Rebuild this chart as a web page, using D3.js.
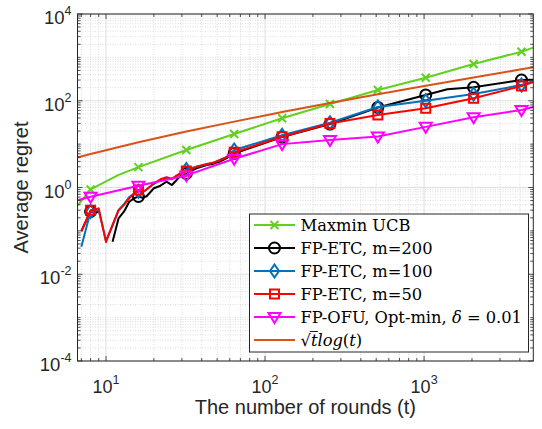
<!DOCTYPE html>
<html>
<head>
<meta charset="utf-8">
<script src="https://cdn.jsdelivr.net/npm/d3@7"></script>
<style>
  body { margin: 0; background: #fff; }
  svg { display: block; }
</style>
</head>
<body>
<svg id="chart" width="542" height="429"></svg>
<script>
// values (t = rounds, y = average regret)
const markerT = [8, 16, 32, 64, 128, 256, 512, 1024, 2048, 4096];

const ucbT = [6.62, 8, 12, 16, 32, 64, 128, 256, 512, 1024, 2048, 4096, 4860];
const ucbV = [0.38, 0.9, 1.95, 2.95, 7.3, 17.1, 39.4, 84, 177, 340, 703, 1352, 1680];

const etc200T = [7, 8, 9, 10, 11, 12, 13, 14, 15, 16, 17, 18, 20, 22, 24, 26, 29, 32, 37, 43, 47, 52, 57, 64,
  128, 256, 512, 1024, 1400, 2048, 4096, 4860];
const etc200V = [0.1, 0.28, 0.27, 0, 0.056, 0.195, 0.28, 0.47, 0.56, 0.62, 0.58, 0.63, 0.96, 1.1, 1.36, 1.14,
  1.77, 2.1, 2.77, 3.3, 3.5, 3.94, 4.7, 6.1, 14.5, 29, 70, 136, 184, 204, 301, 305];

const etcT = [7, 8, 9, 10, 11, 12, 13, 14, 15, 16, 17, 18, 20, 22, 24, 26, 29, 32, 37, 43, 47, 52, 57, 64,
  128, 256, 512, 1024, 2048, 4096, 4860];
const etc100V = [0.043, 0.28, 0.3, 0.06, 0.13, 0.3, 0.42, 0.6, 0.72, 0.82, 0.78, 0.9, 1.2, 1.5, 1.6, 1.55,
  2.0, 2.6, 3.0, 3.4, 3.7, 4.3, 5.0, 7.3, 16, 31, 72, 100, 143, 230, 285];
const etc50V = [0.096, 0.3, 0.33, 0.055, 0.14, 0.3, 0.4, 0.56, 0.73, 0.88, 0.78, 0.9, 1.25, 1.55, 1.72, 1.6,
  2.1, 2.4, 3.0, 3.5, 3.7, 4.25, 4.95, 6.5, 14.8, 30, 47, 67, 114, 219, 270];

const ofuT = [6.62, 8, 16, 32, 64, 128, 256, 512, 1024, 2048, 4096, 4860];
const ofuV = [0.51, 0.61, 1.1, 1.9, 4.6, 10, 12.4, 15, 25, 41.5, 61, 72];

const refT = [6.62, 8, 16, 32, 64, 128, 256, 512, 1024, 2048, 4096, 4860];
const refV = [4.9, 5.9, 11.1, 19.6, 33, 55, 89, 141, 222, 345, 530, 590];

const xTicks = [10, 100, 1000];
const yTicks = [1e-4, 1e-2, 1, 1e2, 1e4];

const series = [
  { name: "Maxmin UCB", t: ucbT, v: ucbV, color: "#62d01f", marker: "x" },
  { name: "FP-ETC, m=200", t: etc200T, v: etc200V, color: "#000000", marker: "circle" },
  { name: "FP-ETC, m=100", t: etcT, v: etc100V, color: "#0072bd", marker: "diamond" },
  { name: "FP-ETC, m=50", t: etcT, v: etc50V, color: "#ff0000", marker: "square" },
  { name: "FP-OFU, Opt-min, ", t: ofuT, v: ofuV, color: "#ff00ff", marker: "triangle" },
  { name: "sqrt", t: refT, v: refV, color: "#d95319", marker: null }
];

const margin = { top: 14, left: 77.5, right: 8.7, bottom: 68 };
const width = 542 - margin.left - margin.right;
const height = 429 - margin.top - margin.bottom;

const svg = d3.select("#chart");
const g = svg.append("g").attr("transform", `translate(${margin.left},${margin.top})`);

const x = d3.scaleLog().domain([6.62, 4860]).range([0, width]);
const y = d3.scaleLog().domain([1e-4, 1e4]).range([height, 0]);

// minor values
const xMinor = [];
for (let e = 0; e <= 3; e++) for (let n = 1; n <= 9; n++) {
  const v = n * Math.pow(10, e);
  if (v >= 6.62 && v <= 4860 && !xTicks.includes(v)) xMinor.push(v);
}
const yMinor = [];
for (let e = -4; e <= 3; e++) for (let n = 1; n <= 9; n++) {
  const v = n * Math.pow(10, e);
  if (!yTicks.some(t => Math.abs(t - v) / v < 1e-9)) yMinor.push(v);
}

// grid
const grid = g.append("g");
grid.selectAll(".xmin").data(xMinor).enter().append("line")
  .attr("x1", d => x(d)).attr("x2", d => x(d)).attr("y1", 0).attr("y2", height)
  .attr("stroke", "#c8c8c8").attr("stroke-width", 0.6).attr("stroke-dasharray", "1,1.5");
grid.selectAll(".ymin").data(yMinor).enter().append("line")
  .attr("y1", d => y(d)).attr("y2", d => y(d)).attr("x1", 0).attr("x2", width)
  .attr("stroke", "#c8c8c8").attr("stroke-width", 0.6).attr("stroke-dasharray", "1,1.5");
grid.selectAll(".xmaj").data(xTicks).enter().append("line")
  .attr("x1", d => x(d)).attr("x2", d => x(d)).attr("y1", 0).attr("y2", height)
  .attr("stroke", "#dedede").attr("stroke-width", 1);
grid.selectAll(".ymaj").data(yTicks).enter().append("line")
  .attr("y1", d => y(d)).attr("y2", d => y(d)).attr("x1", 0).attr("x2", width)
  .attr("stroke", "#dedede").attr("stroke-width", 1);

// clip
svg.append("defs").append("clipPath").attr("id", "clip")
  .append("rect").attr("width", width).attr("height", height);

const plot = g.append("g").attr("clip-path", "url(#clip)");

const line = d3.line()
  .defined(d => d.v > 0)
  .x(d => x(d.t))
  .y(d => y(d.v));

function drawMarker(sel, type, color) {
  if (type === "circle") {
    sel.append("circle").attr("r", 5.5);
  } else if (type === "square") {
    sel.append("rect").attr("x", -4.5).attr("y", -4.5).attr("width", 9).attr("height", 9);
  } else if (type === "diamond") {
    sel.append("path").attr("d", "M0,-6.5L4.5,0L0,6.5L-4.5,0Z");
  } else if (type === "triangle") {
    sel.append("path").attr("d", "M-6,-4L6,-4L0,6Z");
  } else if (type === "x") {
    sel.append("path").attr("d", "M-4,-4L4,4M-4,4L4,-4");
  }
  sel.selectAll("*").attr("fill", "none").attr("stroke", color).attr("stroke-width", 2);
}

series.forEach(s => {
  const pts = s.t.map((t, i) => ({ t: t, v: s.v[i] }));
  plot.append("path")
    .datum(pts)
    .attr("fill", "none")
    .attr("stroke", s.color)
    .attr("stroke-width", 2)
    .attr("stroke-linejoin", "round")
    .attr("d", line);
  if (s.marker) {
    const mk = pts.filter(d => markerT.includes(d.t));
    plot.selectAll(null).data(mk).enter().append("g")
      .attr("transform", d => `translate(${x(d.t)},${y(d.v)})`)
      .each(function() { drawMarker(d3.select(this), s.marker, s.color); });
  }
});

// box + ticks
const axisColor = "#262626";
g.append("rect").attr("width", width).attr("height", height)
  .attr("fill", "none").attr("stroke", axisColor).attr("stroke-width", 1);

const ticks = g.append("g").attr("stroke", axisColor).attr("stroke-width", 0.8);
[[xTicks, 5], [xMinor, 3]].forEach(([vals, len]) => {
  ticks.selectAll(null).data(vals).enter().append("line")
    .attr("x1", d => x(d)).attr("x2", d => x(d)).attr("y1", height).attr("y2", height - len);
  ticks.selectAll(null).data(vals).enter().append("line")
    .attr("x1", d => x(d)).attr("x2", d => x(d)).attr("y1", 0).attr("y2", len);
});
[[yTicks, 5], [yMinor, 3]].forEach(([vals, len]) => {
  ticks.selectAll(null).data(vals).enter().append("line")
    .attr("y1", d => y(d)).attr("y2", d => y(d)).attr("x1", 0).attr("x2", len);
  ticks.selectAll(null).data(vals).enter().append("line")
    .attr("y1", d => y(d)).attr("y2", d => y(d)).attr("x1", width).attr("x2", width - len);
});

// tick labels
const labelFont = "'Liberation Sans', Arial, sans-serif";
const xl = g.selectAll(".xl").data(xTicks).enter().append("text")
  .attr("x", d => x(d)).attr("y", height + 32)
  .attr("text-anchor", "middle").attr("fill", axisColor)
  .style("font-family", labelFont).style("font-size", "18px");
xl.append("tspan").text("10");
xl.append("tspan").attr("dy", -9).style("font-size", "12.5px").text(d => Math.round(Math.log10(d)));

const yl = g.selectAll(".yl").data(yTicks).enter().append("text")
  .attr("x", -6).attr("y", d => y(d) + 10)
  .attr("text-anchor", "end").attr("fill", axisColor)
  .style("font-family", labelFont).style("font-size", "18.5px");
yl.append("tspan").text("10");
yl.append("tspan").attr("dy", -9).style("font-size", "12.5px")
  .text(d => String(Math.round(Math.log10(d))));

// axis titles
g.append("text")
  .attr("x", width / 2).attr("y", height + 53)
  .attr("text-anchor", "middle").attr("fill", axisColor)
  .style("font-family", labelFont).style("font-size", "20px")
  .text("The number of rounds (t)");
g.append("text")
  .attr("transform", `translate(${28 - margin.left},${height / 2}) rotate(-90)`)
  .attr("text-anchor", "middle").attr("fill", axisColor)
  .style("font-family", labelFont).style("font-size", "20px")
  .text("Average regret");

// legend
const legend = svg.append("g").attr("transform", "translate(249.5,214)");
legend.append("rect").attr("width", 279).attr("height", 138)
  .attr("fill", "#fff").attr("stroke", axisColor).attr("stroke-width", 1);
const serif = "'DejaVu Serif', 'Liberation Serif', serif";
series.forEach((s, i) => {
  const row = legend.append("g").attr("transform", `translate(0,${11 + i * 23})`);
  row.append("line").attr("x1", 4.5).attr("x2", 45.5)
    .attr("stroke", s.color).attr("stroke-width", 2);
  if (s.marker) {
    drawMarker(row.append("g").attr("transform", "translate(25,0)"), s.marker, s.color);
  }
  const txt = row.append("text").attr("x", 51).attr("y", 5.5).attr("fill", "#000")
    .style("font-family", serif).style("font-size", "16.3px");
  if (s.name === "sqrt") {
    txt.append("tspan").text("\u221A");
    txt.append("tspan").style("font-style", "italic").text("t");
    txt.append("tspan").style("font-style", "italic").text("log");
    txt.append("tspan").text("(");
    txt.append("tspan").style("font-style", "italic").text("t");
    txt.append("tspan").text(")");
    const sq = txt.node().getSubStringLength(0, 1);
    const tw = txt.node().getSubStringLength(1, 1);
    row.append("line").attr("x1", 51 + sq - 1).attr("x2", 51 + sq + tw + 0.5)
      .attr("y1", -8.5).attr("y2", -8.5).attr("stroke", "#000").attr("stroke-width", 0.9);
  } else if (s.name.startsWith("FP-OFU")) {
    txt.append("tspan").text(s.name);
    txt.append("tspan").style("font-style", "italic").text("\u03B4");
    txt.append("tspan").text(" = 0.01");
  } else {
    txt.text(s.name);
  }
});
</script>
</body>
</html>
